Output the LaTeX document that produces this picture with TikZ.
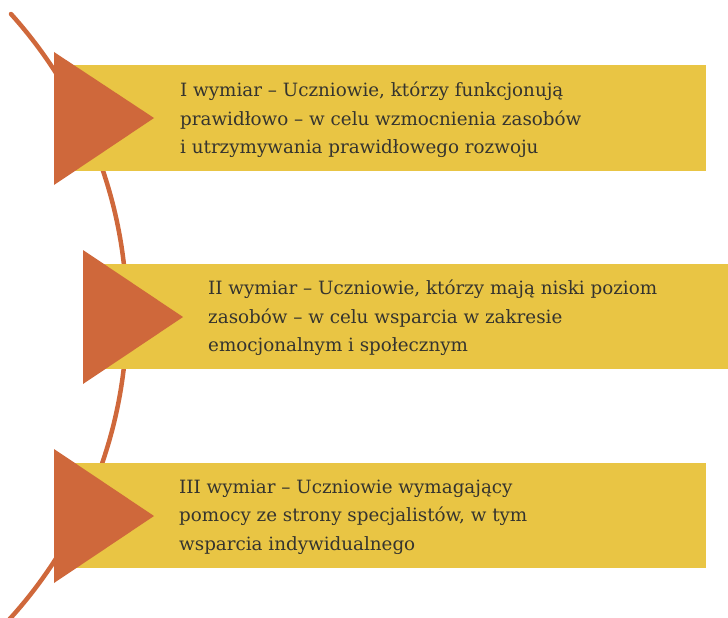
\documentclass[tikz,border=0pt]{standalone}
\usepackage{fontspec}
\setmainfont{DejaVu Serif}
\definecolor{bar}{HTML}{E9C544}
\definecolor{tri}{HTML}{CF683B}
\definecolor{txt}{HTML}{35342F}
\tikzset{
  barbox/.style={fill=bar},
  arrowtri/.style={fill=tri},
  label/.style={anchor=west, align=left, text=txt, inner sep=0pt,
    font=\fontsize{18.3}{28.5}\selectfont},
  arcline/.style={draw=tri, line width=4.5pt, line cap=round}
}
\begin{document}
\begin{tikzpicture}[x=1pt,y=-1pt]
\useasboundingbox (0,0) rectangle (728,618);
\draw[arcline] (11,14) arc[start angle=-42, end angle=44, radius=451];
% bars
\fill[barbox] (60,65) rectangle (706,171);
\fill[barbox] (90,264) rectangle (728,369);
\fill[barbox] (60,463) rectangle (706,568);
% triangles
\fill[arrowtri] (54,52) -- (154,118) -- (54,185) -- cycle;
\fill[arrowtri] (83,250) -- (183,317) -- (83,384) -- cycle;
\fill[arrowtri] (54,449) -- (154,516) -- (54,583) -- cycle;
% texts
\node[label] (t1) at (180,120) {I wymiar -- Uczniowie, którzy funkcjonują\\prawidłowo -- w celu wzmocnienia zasobów\\i utrzymywania prawidłowego rozwoju};
\node[label] (t2) at (208,318) {II wymiar -- Uczniowie, którzy mają niski poziom\\zasobów -- w celu wsparcia w zakresie\\emocjonalnym i społecznym};
\node[label] (t3) at (179,517) {III wymiar -- Uczniowie wymagający\\pomocy ze strony specjalistów, w tym\\wsparcia indywidualnego};
\end{tikzpicture}
\end{document}
